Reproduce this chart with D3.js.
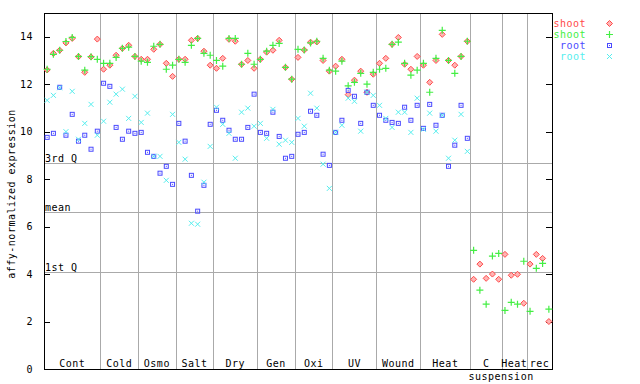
<!DOCTYPE html>
<html>
<head>
<meta charset="utf-8">
<script src="https://cdn.jsdelivr.net/npm/d3@7"></script>
<style>
  body { margin: 0; background: #fff; }
  text { font-family: "DejaVu Sans Mono", monospace; font-size: 10px; letter-spacing: 0.5px; }
</style>
</head>
<body>
<script>
"use strict";

// conditions along the x axis, and how many samples each one holds
var groups = ["Cont", "Cold", "Osmo", "Salt", "Dry", "Gen", "Oxi", "UV", "Wound", "Heat", "C", "Heat", "rec"];
var groupSizes = [9, 6, 6, 6, 7, 6, 6, 7, 7, 8, 5, 4, 4];

// shoot replicate 1 (red diamonds)
var shoot1 = [12.6, 13.3, 13.43, 13.74, 13.93, 13.16, 12.5, 13.15, 13.9,
  12.63, 12.8, 13.22, 13.51, 13.64, 13.17,
  13.05, 13.05, 13.47, 13.68, 12.88, 12.33,
  13.05, 13.05, 13.85, 13.93, 13.39, 12.8,
  12.67, 13.09, 13.89, 13.81, 12.84, 13.0, 12.67,
  13.05, 13.35, 13.43, 13.85, 12.71, 12.21,
  13.13, 13.44, 13.77, 13.78, 13.0, 12.55,
  12.76, 13.05, 11.56, 12.17, 12.55, 11.66, 12.42,
  12.88, 13.09, 13.68, 13.97, 12.84, 12.63, 13.17,
  12.8, 12.08, 13.0, 14.1, 13.0, 12.8, 13.17, 13.81,
  3.78, 4.42, 3.82, 4.0, 3.78,
  4.83, 3.95, 3.99, 2.77,
  4.42, 4.83, 4.66, 2.0];

// shoot replicate 2 (green crosses)
var shoot2 = [12.63, 13.26, 13.43, 13.8, 13.97, 13.17, 12.59, 13.16, 13.05,
  12.88, 12.88, 13.13, 13.51, 13.56, 13.17,
  12.97, 12.92, 13.6, 13.68, 12.63, 12.8,
  13.05, 12.92, 13.64, 13.93, 13.3, 13.22,
  13.0, 12.76, 13.93, 13.93, 12.84, 13.3, 12.84,
  13.05, 13.39, 13.64, 13.72, 12.71, 12.21,
  13.47, 13.44, 13.74, 13.81, 13.09, 12.59,
  12.55, 12.97, 11.93, 12.08, 12.46, 12.0, 12.5,
  12.63, 12.67, 13.68, 13.77, 12.88, 12.38, 12.59,
  12.88, 11.66, 13.09, 14.27, 13.0, 12.46, 13.17, 13.81,
  5.0, 3.32, 2.73, 4.76, 4.87,
  2.47, 2.81, 2.73, 4.54,
  2.43, 4.24, 4.45, 2.52];

// root replicate 1 (blue squares), no root in the suspension samples
var root1 = [9.76, 9.93, 11.87, 9.85, 10.73, 9.6, 9.85, 9.26, 10.02,
  12.04, 11.91, 10.18, 9.68, 10.02, 9.93,
  9.97, 9.13, 8.96, 8.25, 8.54, 7.78,
  10.35, 9.6, 8.16, 6.65, 7.74, 10.31,
  10.9, 10.48, 10.06, 9.68, 9.68, 10.18, 11.58,
  9.97, 9.93, 10.82, 9.8, 8.88, 8.96,
  9.89, 9.97, 10.86, 10.69, 9.05, 8.58,
  9.97, 10.48, 11.74, 11.49, 10.35, 11.66, 11.11,
  10.69, 10.48, 10.39, 10.35, 11.03, 10.48, 11.11,
  10.14, 11.15, 10.27, 10.69, 8.54, 9.43, 11.11, 9.72,
  null, null, null, null, null,
  null, null, null, null,
  null, null, null, null];

// root replicate 2 (cyan x)
var root2 = [11.32, 11.53, 11.85, 10.0, 11.7, 9.68, 10.35, 11.15, 9.85,
  10.44, 11.24, 11.58, 11.79, 10.56, 11.49,
  10.39, 10.78, 8.96, 8.96, 7.95, 10.73,
  9.55, 8.84, 6.14, 6.1, 7.87, 9.38,
  11.03, 10.31, 9.93, 8.88, 10.82, 10.99, 10.23,
  10.35, 9.72, 10.94, 9.47, 9.64, 9.55,
  10.56, 10.23, 11.62, 10.99, 8.63, 7.61,
  9.97, 10.27, 11.41, 11.28, 10.02, 11.66, 11.53,
  11.11, 10.56, 10.18, 10.82, 10.82, 9.97, 11.41,
  10.1, 10.78, 10.02, 10.69, 8.88, 9.64, 10.73, 9.17,
  null, null, null, null, null,
  null, null, null, null,
  null, null, null, null];

var yTicks = [0, 2, 4, 6, 8, 10, 12, 14];
var refNames = ["3rd Q", "mean", "1st Q"];
var refValues = [8.67, 6.6, 4.07];
var legendNames = ["shoot", "shoot", "root", "root"];
var seriesColors = ["#ff4a4a", "#44ee44", "#4a4aff", "#55eeee"];

var width = 640;
var height = 384;
var plotLeft = 44, plotRight = 552, plotTop = 13, plotBottom = 369;

var nSamples = d3.sum(groupSizes);
var x = d3.scaleLinear().domain([0, nSamples]).range([plotLeft, plotRight]);
var y = d3.scaleLinear().domain([0, 15]).range([plotBottom, plotTop]);

var svg = d3.select("body")
    .append("svg")
    .attr("width", width)
    .attr("height", height);

// group boundaries
var bounds = [0];
groupSizes.forEach(function (n, i) { bounds.push(bounds[i] + n); });

svg.selectAll(".sep")
    .data(bounds.slice(1, -1))
    .enter()
      .append("line")
      .attr("class", "sep")
      .attr("x1", function (d) { return Math.round(x(d)) + 0.5; })
      .attr("x2", function (d) { return Math.round(x(d)) + 0.5; })
      .attr("y1", plotTop)
      .attr("y2", plotBottom)
      .attr("stroke", "#aaaaaa")
      .attr("shape-rendering", "crispEdges");

// quartile / mean lines
svg.selectAll(".ref")
    .data(refValues)
    .enter()
      .append("line")
      .attr("class", "ref")
      .attr("x1", plotLeft)
      .attr("x2", plotRight)
      .attr("y1", function (d) { return Math.round(y(d)) + 0.5; })
      .attr("y2", function (d) { return Math.round(y(d)) + 0.5; })
      .attr("stroke", "#aaaaaa")
      .attr("shape-rendering", "crispEdges");

svg.selectAll(".refLabel")
    .data(refValues)
    .enter()
      .append("text")
      .attr("class", "refLabel")
      .attr("x", plotLeft + 1)
      .attr("y", function (d) { return Math.round(y(d)) - 1; })
      .text(function (d, i) { return refNames[i]; });

// axes: ticks point into the plot on both sides
svg.append("g")
    .attr("transform", "translate(" + plotLeft + ",0)")
    .call(d3.axisLeft(y).tickValues(yTicks).tickSizeInner(-6).tickSizeOuter(0).tickPadding(11))
    .call(function (g) {
      g.selectAll("text").style("font-family", "DejaVu Sans Mono").style("font-size", "10px").attr("fill", "#000");
      g.selectAll("line").attr("shape-rendering", "crispEdges");
    });

svg.append("g")
    .attr("transform", "translate(" + plotRight + ",0)")
    .call(d3.axisRight(y).tickValues(yTicks).tickSizeInner(-6).tickSizeOuter(0).tickFormat(""))
    .call(function (g) { g.selectAll("line").attr("shape-rendering", "crispEdges"); });

svg.append("rect")
    .attr("x", plotLeft + 0.5)
    .attr("y", plotTop + 0.5)
    .attr("width", plotRight - plotLeft)
    .attr("height", plotBottom - plotTop)
    .attr("fill", "none")
    .attr("stroke", "#000")
    .attr("shape-rendering", "crispEdges");

svg.append("text")
    .attr("transform", "translate(15," + 194 + ") rotate(-90)")
    .attr("text-anchor", "middle")
    .text("affy-normalized expression");

// condition labels
svg.selectAll(".grp")
    .data(groups)
    .enter()
      .append("text")
      .attr("class", "grp")
      .attr("x", function (d, i) { return x((bounds[i] + bounds[i + 1]) / 2); })
      .attr("y", plotBottom - 2)
      .attr("text-anchor", "middle")
      .text(function (d) { return d; });

svg.append("text")
    .attr("x", x(bounds[10]) - 2)
    .attr("y", 380)
    .text("suspension");

// points
var cx = function (i) { return x(i + 0.5); };

var symbols = [
  function (g, c) {
    g.append("path").attr("d", "M0,-3L3,0L0,3L-3,0Z")
      .attr("fill", "#ffb4b4").attr("stroke", c);
  },
  function (g, c) {
    g.append("path").attr("d", "M-3.5,0H3.5M0,-3.5V3.5")
      .attr("stroke", c).attr("stroke-width", 1.2);
  },
  function (g, c) {
    g.append("rect").attr("x", -2).attr("y", -2).attr("width", 4).attr("height", 4)
      .attr("fill", "none").attr("stroke", c);
    g.append("rect").attr("x", -0.5).attr("y", -0.5).attr("width", 1).attr("height", 1)
      .attr("fill", c);
  },
  function (g, c) {
    g.append("path").attr("d", "M-2.5,-2.5L2.5,2.5M-2.5,2.5L2.5,-2.5")
      .attr("stroke", c);
  }
];

[shoot1, shoot2, root1, root2].forEach(function (series, s) {
  svg.selectAll(".pt" + s)
      .data(series.map(function (v, i) { return {i: i, v: v}; }).filter(function (d) { return d.v !== null; }))
      .enter()
        .append("g")
        .attr("class", "pt" + s)
        .attr("transform", function (d) { return "translate(" + cx(d.i) + "," + y(d.v) + ")"; })
        .each(function () { symbols[s](d3.select(this), seriesColors[s]); });
});

// legend
var legend = svg.selectAll(".legend")
    .data(legendNames)
    .enter()
      .append("g")
      .attr("class", "legend")
      .attr("transform", function (d, i) { return "translate(0," + (23.5 + i * 11) + ")"; });

legend.append("text")
    .attr("x", 586)
    .attr("y", 3)
    .attr("text-anchor", "end")
    .attr("fill", function (d, i) { return seriesColors[i]; })
    .text(function (d) { return d; });

legend.each(function (d, i) {
  var g = d3.select(this).append("g").attr("transform", "translate(609.5,0)");
  symbols[i](g, seriesColors[i]);
});
</script>
</body>
</html>
